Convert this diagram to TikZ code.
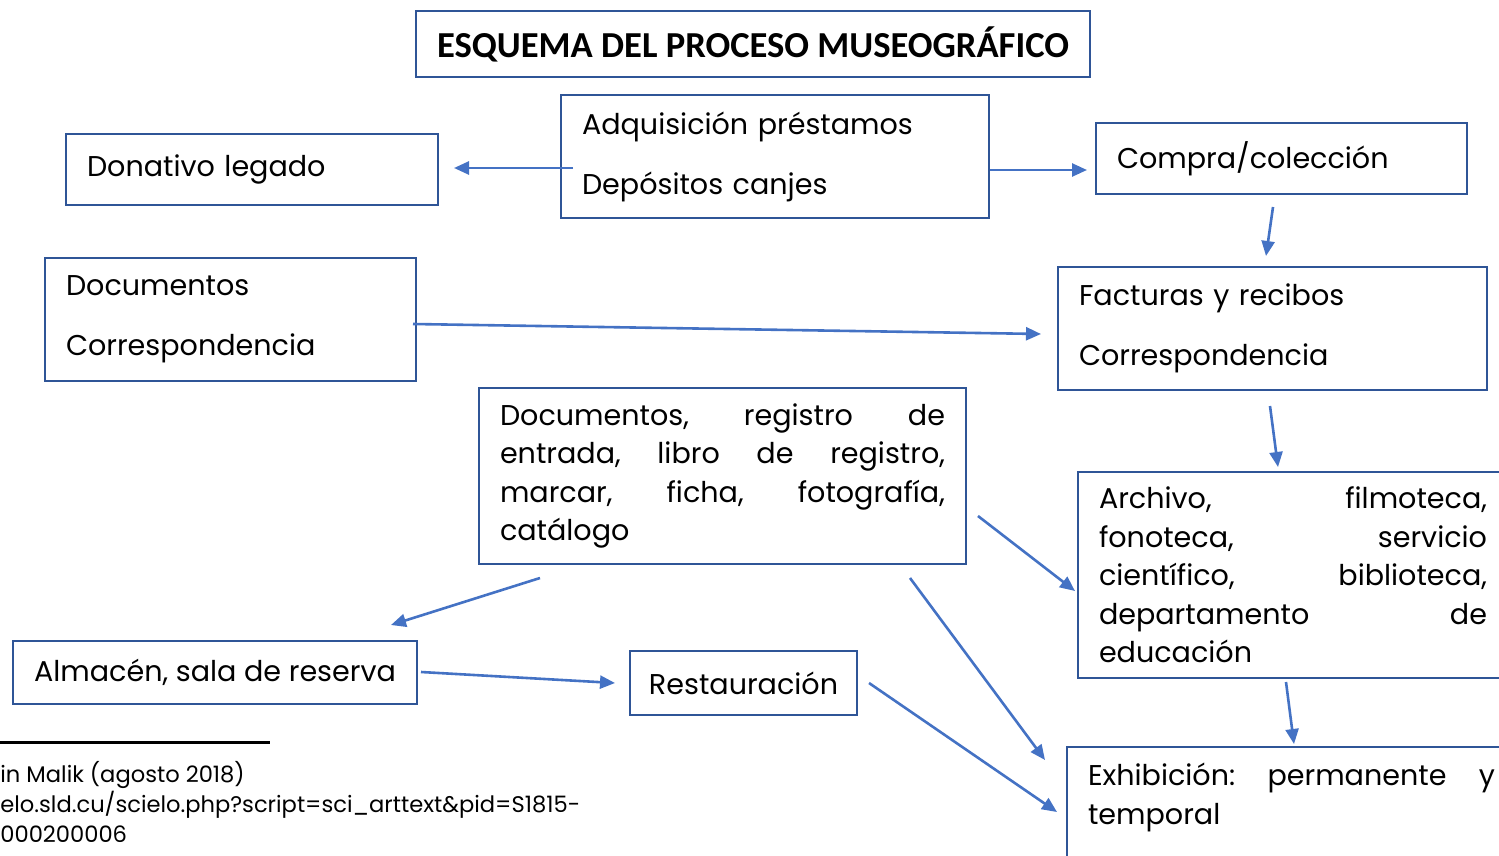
\documentclass[tikz,border=0pt]{standalone}
\usepackage{fontspec}
\setmainfont{Poppins}
\newfontfamily\titlefont{Carlito}
\usetikzlibrary{arrows.meta}

\definecolor{boxblue}{HTML}{2F5597}
\definecolor{arrowblue}{HTML}{4472C4}

\tikzstyle{box} = [
	draw = boxblue,
	line width = 1pt,
	anchor = north west,
	inner xsep = 10.5pt,
	inner ysep = 0pt,
	align = left,
	font = \fontsize{14.3pt}{19.25pt}\selectfont
	]

\tikzstyle{wide} = [
	font = \fontsize{14.3pt}{30pt}\selectfont
	]

\begin{document}
\begin{tikzpicture}[
	x = 0.5pt,
	y = -0.5pt,
	link/.style = {
	draw = arrowblue,
	line width = 1.3pt,
	-{Triangle[length=7.5pt, width=6.5pt]}
	}
	]

			   \clip (0,0) rectangle (1499,856);

			   \node[box, align=center, minimum width=336.5pt, minimum height=33pt, font=\titlefont\bfseries\fontsize{18.3pt}{22pt}\selectfont] (title) at (415,10) {ESQUEMA DEL PROCESO MUSEOGRÁFICO};

			   \node[box, wide, text width=193pt, minimum height=61.5pt] (adq) at (560,94) {Adquisición préstamos\\ Depósitos canjes};
			   \node[box, text width=165pt, minimum height=35.5pt] (don) at (65,133) {Donativo legado};
			   \node[box, text width=164.5pt, minimum height=35.5pt] (com) at (1095,122) {Compra/colección};

			   \node[box, wide, text width=164.5pt, minimum height=61.5pt] (docs) at (44,257) {Documentos\\ Correspondencia};
			   \node[box, wide, text width=193.5pt, minimum height=61.5pt] (fac) at (1057,266) {Facturas y recibos\\ Correspondencia};

			   \node[box, text width=222.5pt, minimum height=88pt] (reg) at (478,387) {Documentos,\hfill registro\hfill de\\ entrada,\hfill libro\hfill de\hfill registro,\\ marcar,\hfill ficha,\hfill fotografía,\\ catálogo};
			   \node[box, text width=194pt, minimum height=103pt] (arc) at (1077,471) {Archivo,\hfill filmoteca,\\ fonoteca,\hfill servicio\\ científico,\hfill biblioteca,\\ departamento\hfill de\\ educación};

			   \node[box, align=center, minimum width=202pt, minimum height=31.5pt] (alm) at (12,640) {Almacén, sala de reserva};
			   \node[box, align=center, inner xsep=8pt, minimum width=113.5pt, minimum height=32pt] (res) at (629,650) {Restauración};
			   \node[box, text width=203.5pt, minimum height=85pt] (exh) at (1066,746) {Exhibición:\hfill permanente\hfill y\\ temporal\\ \mbox{}\\ \mbox{}};

			   % nota al pie
			   \draw[line width=1.5pt] (0,742) -- (270,742);
			   \node[anchor=north west, inner sep=0pt, align=left, font=\fontsize{11.3pt}{15pt}\selectfont] (nota) at (0,761) {in Malik (agosto 2018)\\ elo.sld.cu/scielo.php?script=sci\_arttext\&pid=S1815-\\ 000200006};

			   \draw[link] ([shift={(13,11.5)}]adq.west) -- ([shift={(15,-1.5)}]don.east);
			   \draw[link] ([shift={(0,13.5)}]adq.east) -- ([shift={(-8,11.5)}]com.west);
			   \draw[link] ([shift={(-8.5,12)}]com.south) -- ([shift={(-6.5,-10)}]fac.north);
			   \draw[link] ([shift={(-4,4.5)}]docs.east) -- ([shift={(-16,5.5)}]fac.west);
			   \draw[link] ([shift={(-2.5,15)}]fac.south) -- ([shift={(-15,-4)}]arc.north);
			   \draw[link] ([shift={(11,40)}]reg.east) -- ([shift={(-2,16)}]arc.west);
			   \draw[link] ([shift={(62,13)}]reg.south west) -- ([shift={(-27,-15)}]alm.north east);
			   \draw[link] ([shift={(-57,13)}]reg.south east) -- ([shift={(-21,14)}]exh.north west);
			   \draw[link] ([shift={(3,-0.5)}]alm.east) -- ([shift={(-14,0)}]res.west);
			   \draw[link] ([shift={(-7,3)}]arc.south) -- ([shift={(228,-2)}]exh.north west);
			   \draw[link] ([shift={(11,0)}]res.east) -- ([shift={(-9,66)}]exh.north west);
		   \end{tikzpicture}
\end{document}
